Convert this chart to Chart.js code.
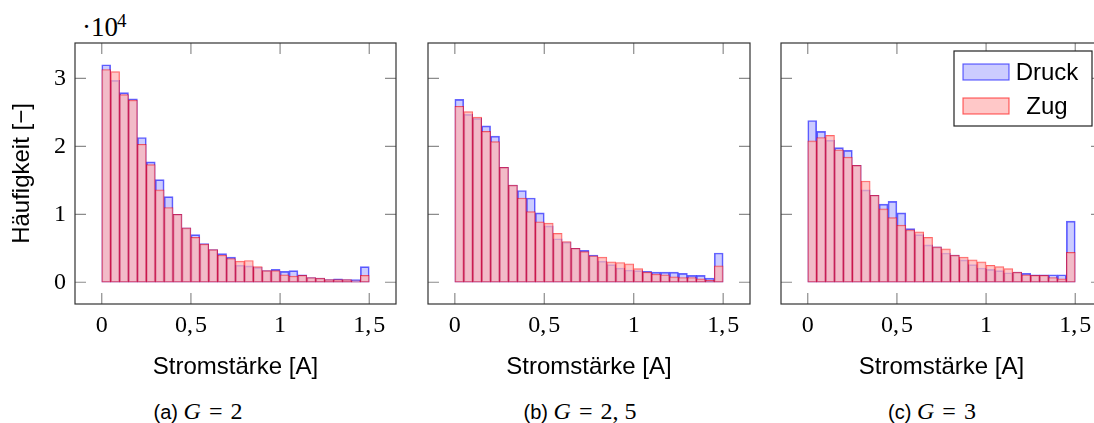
<!DOCTYPE html>
<html>
<head>
<meta charset="utf-8">
<script src="https://cdn.jsdelivr.net/npm/chart.js@4"></script>
<style>
body{margin:0;width:1094px;height:423px;overflow:hidden;background:#fff;position:relative;}
canvas{position:absolute;top:0;}
.cap{position:absolute;top:399px;line-height:24px;font-family:'Liberation Sans';font-size:20px;white-space:nowrap;transform:translateX(-50%);}
.cap .m{font-family:'Liberation Serif';font-size:24px;}
.cap .eq{margin:0 8px;}
.exp{position:absolute;font-family:'Liberation Serif';white-space:nowrap;}
</style>
</head>
<body>
<span class="exp" style="left:82px;top:14px;font-size:27px;line-height:27px">·</span>
<span class="exp" style="left:91px;top:14px;font-size:27px;line-height:27px">10</span>
<span class="exp" style="left:117px;top:11px;font-size:19px;line-height:19px">4</span>
<canvas id="chartA" width="400" height="390" style="left:0"></canvas>
<canvas id="chartB" width="345" height="390" style="left:410px"></canvas>
<canvas id="chartC" width="345" height="390" style="left:765px"></canvas>
<div class="cap" style="left:198px">(a) <span class="m"><i>G</i><span class="eq">=</span>2</span></div>
<div class="cap" style="left:580px">(b) <span class="m"><i>G</i><span class="eq">=</span>2, 5</span></div>
<div class="cap" style="left:932px">(c) <span class="m"><i>G</i><span class="eq">=</span>3</span></div>
<script>
// bin centres, width 0.05 A
const binCenters = [0.025,0.075,0.125,0.175,0.225,0.275,0.325,0.375,0.425,0.475,
  0.525,0.575,0.625,0.675,0.725,0.775,0.825,0.875,0.925,0.975,
  1.025,1.075,1.125,1.175,1.225,1.275,1.325,1.375,1.425,1.475];

// counts per bin
const druckG2 = [32000,29700,27900,27000,21300,17700,15100,12600,10000,8000,
  7000,5700,4800,4200,3700,2500,2400,2200,1700,1900,
  1600,1700,1100,700,600,400,500,400,400,2300];
const zugG2 = [31300,31000,27600,26800,20300,17300,13600,11000,10000,8000,
  6600,5600,4800,4000,3500,3100,3200,2300,1700,1700,
  1100,900,1000,700,600,400,400,400,200,1000];

const druckG25 = [26900,24700,24100,23000,21500,16900,14300,13500,12400,10200,
  8300,6400,5900,5000,4700,4000,3100,2600,2100,1800,
  1700,1600,1500,1500,1500,1300,1000,1000,600,4300];
const zugG25 = [25900,25100,24300,22200,20700,16900,14300,12400,10400,8900,
  8700,7200,6000,5000,4500,3900,3700,3000,2900,2700,
  2000,1500,1200,1100,800,700,700,500,300,2400];

const druckG3 = [23800,22200,20900,19800,19400,17200,13600,12800,11500,11900,
  10200,7900,7000,5500,5200,4300,4000,3300,2600,2100,
  1900,1700,1400,1500,1300,1100,1100,1100,1100,9000];
const zugG3 = [20800,21300,21600,19500,18400,17200,14900,12800,10800,9500,
  8400,7700,7400,6600,5200,4900,4000,3700,3300,3000,
  2500,2300,2000,1500,1100,1000,1000,700,500,4400];

const xTickValues = [0,0.5,1,1.5];
const xTickLabels = ['0','0,\u200A5','1','1,\u200A5'];
const yTickValues = [0,10000,20000,30000];
const yTickLabels = ['0','1','2','3'];

const blueFill = 'rgba(0,0,255,0.2)', blueLine = 'rgba(0,0,255,0.6)';
const redFill = 'rgba(255,180,180,0.73)', redLine = 'rgba(255,0,0,0.6)';
const serif = {family:'Liberation Serif', size:24};
const sans = {family:'Liberation Sans', size:24};

function toPoints(vals){
  return binCenters.map((x,i)=>({x:x, y:vals[i]}));
}

// box around the plot and inward ticks, pgfplots style
const frame = {
  id:'frame',
  afterDatasetsDraw(chart){
    const {ctx, chartArea:a, scales} = chart;
    ctx.save();
    ctx.strokeStyle = '#8c8c8c';
    ctx.lineWidth = 1.2;
    ctx.beginPath();
    scales.x.ticks.forEach(t=>{
      const px = scales.x.getPixelForValue(t.value);
      ctx.moveTo(px,a.bottom); ctx.lineTo(px,a.bottom-11);
      ctx.moveTo(px,a.top); ctx.lineTo(px,a.top+11);
    });
    scales.y.ticks.forEach(t=>{
      const py = scales.y.getPixelForValue(t.value);
      ctx.moveTo(a.left,py); ctx.lineTo(a.left+11,py);
      ctx.moveTo(a.right,py); ctx.lineTo(a.right-11,py);
    });
    ctx.stroke();
    ctx.strokeStyle = '#333';
    ctx.strokeRect(a.left,a.top,a.right-a.left,a.bottom-a.top);
    ctx.restore();
  }
};

// legend box inside the upper right corner
const boxLegend = {
  id:'boxLegend',
  afterDraw(chart){
    const {ctx, chartArea:a} = chart;
    const x0 = a.right-148, y0 = a.top+8;
    ctx.save();
    ctx.fillStyle = '#fff';
    ctx.fillRect(x0,y0,138,75);
    ctx.strokeStyle = '#222';
    ctx.lineWidth = 1.2;
    ctx.strokeRect(x0,y0,138,75);
    ctx.font = '24px "Liberation Sans"';
    ctx.textAlign = 'center';
    ctx.textBaseline = 'middle';
    chart.data.datasets.forEach((ds,i)=>{
      const cy = y0 + 21 + i*34;
      ctx.fillStyle = '#fff';
      ctx.fillRect(x0+9,cy-8,46,16);
      ctx.fillStyle = ds.backgroundColor;
      ctx.fillRect(x0+9,cy-8,46,16);
      ctx.strokeStyle = ds.borderColor;
      ctx.strokeRect(x0+9,cy-8,46,16);
      ctx.fillStyle = '#000';
      ctx.fillText(ds.label,x0+93,cy+1);
    });
    ctx.restore();
  }
};

function makeHist(id, druck, zug, yWidth, padRight, showY, legend){
  const plugins = [frame];
  if(legend) plugins.push(boxLegend);
  return new Chart(document.getElementById(id),{
    type:'bar',
    data:{datasets:[
      {label:'Druck', data:toPoints(druck), backgroundColor:blueFill, borderColor:blueLine,
       borderWidth:1, borderSkipped:false, grouped:false, barPercentage:1, categoryPercentage:1, order:1},
      {label:'Zug', data:toPoints(zug), backgroundColor:redFill, borderColor:redLine,
       borderWidth:1, borderSkipped:false, grouped:false, barPercentage:1, categoryPercentage:1, order:0}
    ]},
    options:{
      responsive:false,
      animation:false,
      layout:{padding:{top:43, left:0, right:padRight, bottom:0}},
      plugins:{legend:{display:false}, tooltip:{enabled:false}},
      scales:{
        x:{
          type:'linear', min:-0.15, max:1.65, offset:false,
          grid:{display:false, drawTicks:false}, border:{display:false},
          afterBuildTicks:s=>{ s.ticks = xTickValues.map(v=>({value:v})); },
          ticks:{padding:7, color:'#000', font:serif, callback:(v,i)=>xTickLabels[i]},
          title:{display:true, text:'Stromstärke [A]', color:'#000', font:sans, padding:{top:0, bottom:8}},
          afterFit:s=>{ s.height = 86; }
        },
        y:{
          min:-3200, max:35200,
          grid:{display:false, drawTicks:false}, border:{display:false},
          afterBuildTicks:s=>{ s.ticks = yTickValues.map(v=>({value:v})); },
          ticks:{display:showY, padding:9, color:'#000', font:serif, callback:(v,i)=>yTickLabels[i]},
          title:{display:showY, text:'Häufigkeit [−]', color:'#000', font:sans, padding:{top:8, bottom:0}},
          afterFit:s=>{ s.width = yWidth; }
        }
      }
    },
    plugins:plugins
  });
}

makeHist('chartA', druckG2, zugG2, 75, 4, true, false);
makeHist('chartB', druckG25, zugG25, 18, 5, false, false);
makeHist('chartC', druckG3, zugG3, 16, 8, false, true);
</script>
</body>
</html>
